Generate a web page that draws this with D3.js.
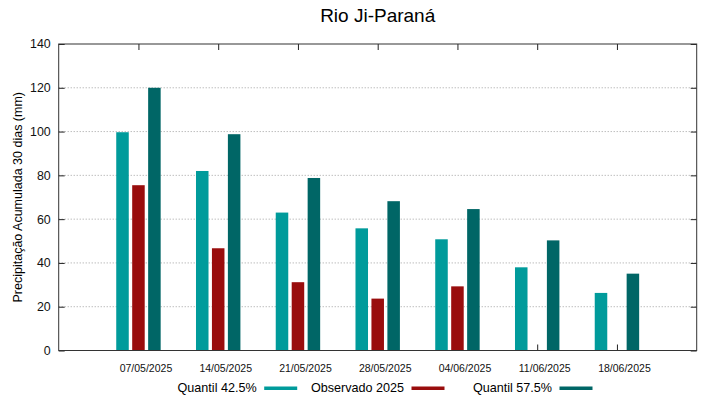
<!DOCTYPE html>
<html>
<head>
<meta charset="utf-8">
<script src="https://cdn.jsdelivr.net/npm/d3@7"></script>
<style>
  body { margin: 0; background: #fff; }
  svg { display: block; font-family: "Liberation Sans", Arial, sans-serif; }
</style>
</head>
<body>
<svg width="719" height="399"></svg>
<script>
// data
var dates = ["07/05/2025", "14/05/2025", "21/05/2025", "28/05/2025", "04/06/2025", "11/06/2025", "18/06/2025"];
var q425 = [99.7, 82.0, 63.0, 55.8, 50.8, 38.0, 26.3];
var obs2025 = [75.5, 46.7, 31.2, 23.7, 29.3, null, null];
var q575 = [120.0, 98.8, 78.8, 68.2, 64.6, 50.3, 35.1];
var yTicks = [0, 20, 40, 60, 80, 100, 120, 140];

var series = [
  { name: "Quantil 42.5%", values: q425, color: "#009b9b", offset: -0.2 },
  { name: "Observado 2025", values: obs2025, color: "#990d0d", offset: 0 },
  { name: "Quantil 57.5%", values: q575, color: "#006666", offset: 0.2 }
];

var svg = d3.select("svg"),
    plotL = 58.7, plotR = 696.7, plotT = 44, plotB = 350.5;

var x = d3.scaleLinear().domain([-1, 7]).range([plotL, plotR]);
var y = d3.scaleLinear().domain([0, 140]).range([plotB, plotT]);
var barW = x(0.157) - x(0);

// title
svg.append("text")
    .attr("x", (plotL + plotR) / 2)
    .attr("y", 21.7)
    .attr("text-anchor", "middle")
    .style("font-size", "19px")
    .text("Rio Ji-Paraná");

// dotted grid
svg.append("g").selectAll("line")
    .data(yTicks.filter(function(d) { return d > 0 && d < 140; }))
  .enter().append("line")
    .attr("x1", plotL).attr("x2", plotR)
    .attr("y1", function(d) { return y(d); })
    .attr("y2", function(d) { return y(d); })
    .attr("stroke", "#a0a0a0")
    .attr("stroke-width", 1)
    .attr("stroke-dasharray", "1,2");

// axes (gnuplot style: inward ticks, mirrored)
var idx = d3.range(dates.length);
var yLeft = svg.append("g")
    .attr("transform", "translate(" + plotL + ",0)")
    .call(d3.axisLeft(y).tickValues(yTicks).tickSize(-6).tickPadding(8).tickFormat(d3.format("d")));
svg.append("g")
    .attr("transform", "translate(" + plotR + ",0)")
    .call(d3.axisRight(y).tickValues(yTicks).tickSize(-6).tickFormat(""));
svg.append("g")
    .attr("transform", "translate(0," + plotT + ")")
    .call(d3.axisTop(x).tickValues(idx).tickSize(-6).tickFormat(""));
var xBottom = svg.append("g")
    .attr("transform", "translate(0," + plotB + ")")
    .call(d3.axisBottom(x).tickValues(idx).tickSize(-6).tickFormat(function(i) { return dates[i]; }));

svg.selectAll(".domain").remove();
svg.selectAll(".tick line").attr("stroke", "#222");
yLeft.selectAll("text").style("font-size", "12.4px").attr("fill", "#111");
xBottom.selectAll("text")
    .style("font-size", "10.5px")
    .attr("fill", "#111")
    .attr("dy", null)
    .attr("y", 21)
    .attr("x", 7);

// bars
series.forEach(function(s) {
  svg.append("g").selectAll("rect")
      .data(s.values.map(function(v, i) { return { i: i, v: v }; })
                    .filter(function(d) { return d.v != null; }))
    .enter().append("rect")
      .attr("x", function(d) { return x(d.i + s.offset) - barW / 2; })
      .attr("y", function(d) { return y(d.v); })
      .attr("width", barW)
      .attr("height", function(d) { return y(0) - y(d.v); })
      .attr("fill", s.color);
});

// border
svg.append("rect")
    .attr("x", plotL).attr("y", plotT)
    .attr("width", plotR - plotL).attr("height", plotB - plotT)
    .attr("fill", "none")
    .attr("stroke", "#333")
    .attr("stroke-width", 1);

// y label
svg.append("text")
    .attr("transform", "translate(22," + ((plotT + plotB) / 2) + ") rotate(-90)")
    .attr("text-anchor", "middle")
    .style("font-size", "12.5px")
    .text("Precipitação Acumulada 30 dias (mm)");

// legend
var legendX = [256.7, 404, 552];
series.forEach(function(s, k) {
  svg.append("text")
      .attr("x", legendX[k])
      .attr("y", 392)
      .attr("text-anchor", "end")
      .style("font-size", "12.6px")
      .text(s.name);
  svg.append("rect")
      .attr("x", legendX[k] + 7.5)
      .attr("y", 386.5)
      .attr("width", 33)
      .attr("height", 3.5)
      .attr("fill", s.color);
});
</script>
</body>
</html>
